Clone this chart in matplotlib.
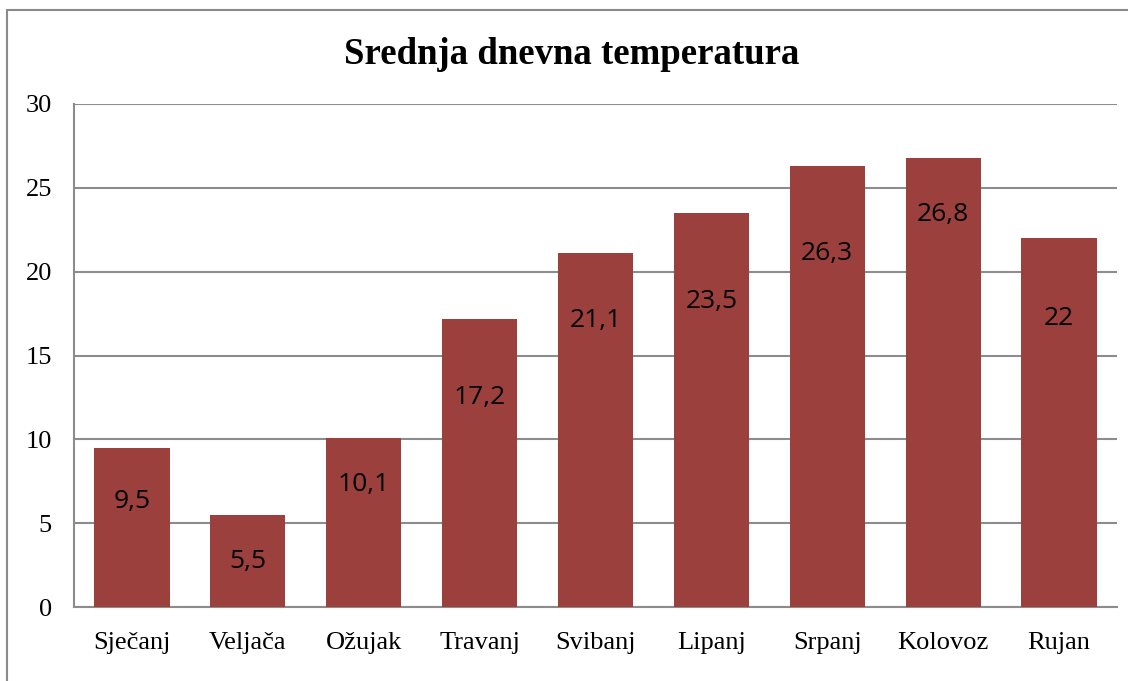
import matplotlib.pyplot as plt
from matplotlib.patches import Rectangle
import numpy as np

months = ['Sječanj', 'Veljača', 'Ožujak', 'Travanj', 'Svibanj',
          'Lipanj', 'Srpanj', 'Kolovoz', 'Rujan']
temps = [9.5, 5.5, 10.1, 17.2, 21.1, 23.5, 26.3, 26.8, 22]
label_text = ['9,5', '5,5', '10,1', '17,2', '21,1', '23,5', '26,3', '26,8', '22']
# how far below the bar top each label sits
label_drop = [3.2, 2.8, 2.8, 4.7, 4.0, 5.3, 5.2, 3.4, 4.8]

bar_color = '#9C403E'
grid_color = '#8C8C8C'

fig = plt.figure(figsize=(11.28, 6.81), dpi=100)
ax = fig.add_axes([74 / 1128, 1 - 607 / 681, (1117 - 74) / 1128, (607 - 104) / 681])

# outer chart border (left and top visible)
fig.patches.append(Rectangle((7 / 1128, -0.5), 2.0, 0.5 + 1 - 10 / 681,
                             transform=fig.transFigure, fill=False,
                             edgecolor='#8A8A8A', linewidth=1.5))

x = np.arange(len(months))
ax.bar(x, temps, width=0.65, color=bar_color, zorder=3)

for xi, v, t, d in zip(x, temps, label_text, label_drop):
    ax.text(xi, v - d, t, ha='center', va='center', fontsize=19,
            family='Open Sans', color='black', zorder=4)

ax.set_xlim(-0.5, len(months) - 0.5)
ax.set_ylim(0, 30)
ax.set_yticks(range(0, 31, 5))
ax.set_xticks(x)
ax.set_xticklabels(months)
ax.yaxis.grid(True, color=grid_color, linewidth=1.5, zorder=0)
ax.tick_params(length=0, labelsize=19)
for lab in ax.get_xticklabels() + ax.get_yticklabels():
    lab.set_family('Liberation Serif')
ax.tick_params(axis='x', pad=18)
ax.tick_params(axis='y', pad=16)

for s in ['top', 'right']:
    ax.spines[s].set_visible(False)
for s in ['left', 'bottom']:
    ax.spines[s].set_color(grid_color)
    ax.spines[s].set_linewidth(1.5)

fig.text(572 / 1128, 1 - 55 / 681, 'Srednja dnevna temperatura', ha='center',
         va='center', fontsize=26.5, fontweight='bold', family='Liberation Serif')

fig.savefig('out.png', dpi=100)
